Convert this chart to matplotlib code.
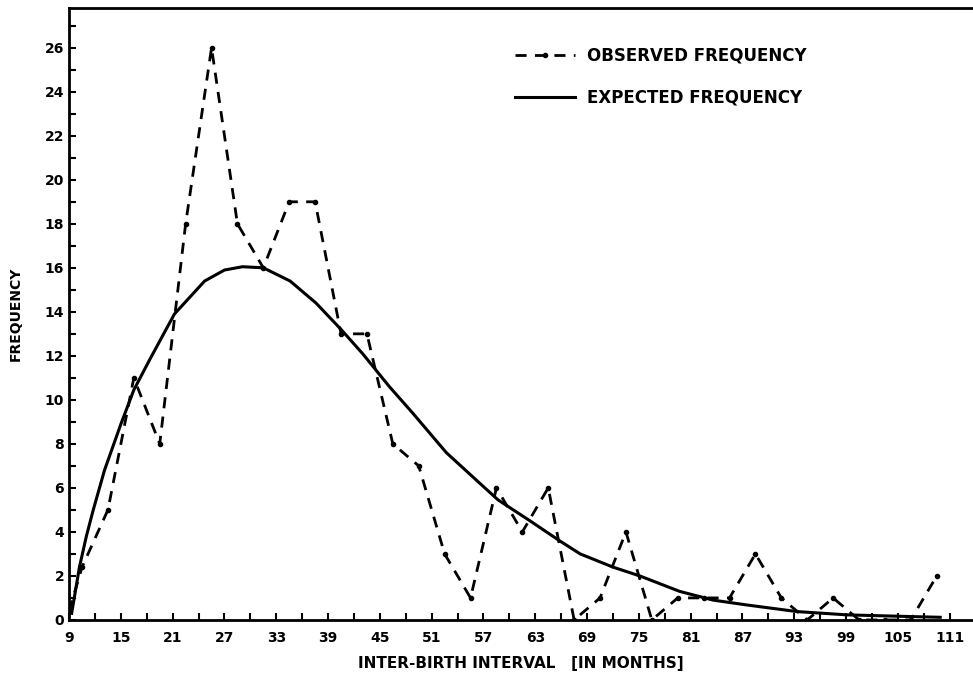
import numpy as np
import matplotlib
matplotlib.use("Agg")
import matplotlib.pyplot as plt

# class midpoints (months) and observed frequencies
months = [9, 10.5, 13.5, 16.5, 19.5, 22.5, 25.5, 28.5, 31.5, 34.5, 37.5, 40.5,
          43.5, 46.5, 49.5, 52.5, 55.5, 58.5, 61.5, 64.5, 67.5, 70.5, 73.5,
          76.5, 79.5, 82.5, 85.5, 88.5, 91.5, 94.5, 97.5, 100.5, 103.5,
          106.5, 109.5]
observed = [0.4, 2.4, 5, 11, 8, 18, 26, 18, 16, 19, 19, 13, 13, 8, 7, 3, 1,
            6, 4, 6, 0, 1, 4, 0, 1, 1, 1, 3, 1, 0, 1, 0, 0, 0, 2]

# expected curve, points
exp_months = [9.3, 10.2, 11.0, 11.8, 13.1, 15.0, 16.5, 18.3, 21.2, 24.7, 27.0,
              29.1, 31.5, 34.6, 37.6, 40.5, 43.0, 46.1, 48.8, 52.7, 56.6,
              58.7, 62.4, 65.8, 68.2, 72.0, 75.1, 79.7, 83.6, 87.5, 93.3,
              99.1, 106.8, 109.9]
expected = [0.3, 2.4, 3.8, 5.0, 6.8, 8.9, 10.45, 11.8, 13.9, 15.4, 15.9,
            16.05, 16.0, 15.4, 14.4, 13.2, 12.1, 10.6, 9.4, 7.6, 6.2, 5.45,
            4.5, 3.6, 3.0, 2.4, 2.0, 1.3, 0.9, 0.68, 0.38, 0.23, 0.15, 0.12]

xticks = list(range(9, 112, 6))
yticks = list(range(0, 27, 2))

fig = plt.figure(figsize=(9.73, 6.79), dpi=100)
ax = fig.add_axes([0.071, 0.087, 0.929, 0.901])

ax.plot(months, observed, 'k--', lw=2, dashes=(4, 3), marker='o', ms=3,
        label='OBSERVED FREQUENCY')
ax.plot(exp_months, expected, 'k-', lw=2.2, label='EXPECTED FREQUENCY')

ax.set_xlim(9, 113.7)
ax.set_ylim(0, 27.8)
ax.set_xticks(xticks)
ax.set_xticks(np.arange(9, 113, 3), minor=True)
ax.set_yticks(yticks)
ax.set_yticks(range(0, 28), minor=True)
ax.tick_params(which='both', direction='in', length=5, width=1.5,
               labelsize=10)
ax.tick_params(axis='x', pad=8)
for lab in ax.get_xticklabels() + ax.get_yticklabels():
    lab.set_fontweight('bold')

ax.spines['right'].set_visible(False)
for s in ('left', 'bottom', 'top'):
    ax.spines[s].set_linewidth(2)

ax.set_xlabel('INTER-BIRTH INTERVAL   [IN MONTHS]', fontsize=11,
              fontweight='bold', labelpad=8)
ax.set_ylabel('FREQUENCY', fontsize=10, fontweight='bold', labelpad=16)

ax.legend(loc='upper left', bbox_to_anchor=(0.486, 0.948), frameon=False,
          handlelength=3.6, handletextpad=0.7, labelspacing=1.45,
          borderaxespad=0, prop={'weight': 'bold', 'size': 12})

fig.savefig('out.png', dpi=100)
